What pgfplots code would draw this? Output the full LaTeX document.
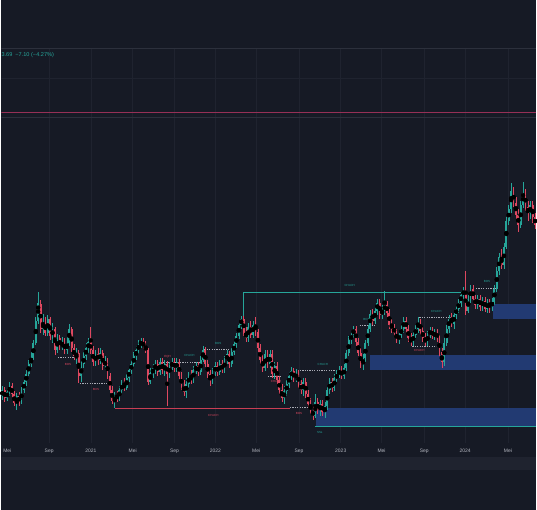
\documentclass[border=0pt]{standalone}
\usepackage{fontspec}
\setmainfont{Liberation Sans}
\usepackage{pgfplots}
\usepackage{pgfplotstable}
\pgfplotsset{compat=1.18}
\definecolor{bg}{RGB}{22,26,37}
\definecolor{strip}{RGB}{31,35,47}
\definecolor{gridc}{RGB}{31,35,47}
\definecolor{sepc}{RGB}{44,48,60}
\definecolor{upc}{RGB}{38,166,154}
\definecolor{dnc}{RGB}{222,72,96}
\definecolor{redline}{RGB}{200,62,84}
\definecolor{zone}{RGB}{34,58,114}
\definecolor{pinkl}{RGB}{150,48,86}
\definecolor{ticktext}{RGB}{178,181,190}
\definecolor{dashc}{RGB}{170,172,182}

\pgfplotstableread{
x o h l c
1.0 398 388 402 392
3.4 392 389 404 400
5.8 400 390 403 394
8.2 394 384 398 388
10.6 388 385 400 396
13.0 396 393 408 405
15.4 405 395 412 398
17.8 398 394 408 404
20.2 404 389 406 392
22.6 392 381 395 384
25.0 384 372 388 376
27.4 376 362 378 366
29.8 366 354 369 360
32.2 360 342 362 345
34.6 345 318 347 322
37.0 322 293 325 304
39.4 305 301 334 330
41.8 330 315 336 325
44.2 325 318 338 334
46.6 334 316 338 320
49.0 320 318 342 338
51.4 338 324 345 330
53.8 330 328 357 352
56.2 352 335 355 340
58.6 340 336 352 348
61.0 348 339 352 344
63.4 344 340 356 352
65.8 352 338 356 345
68.2 345 325 348 330
70.6 330 328 354 350
73.0 350 346 362 358
75.4 358 350 366 355
77.8 355 352 385 378
80.2 378 362 384 366
82.6 366 354 370 358
85.0 358 345 362 350
87.4 350 340 355 344
89.8 344 328 356 352
92.2 352 348 368 364
94.6 364 352 368 356
97.0 356 350 367 362
99.4 362 350 366 355
101.8 355 352 372 368
104.2 368 358 372 362
106.6 362 360 381 378
109.0 378 375 395 392
111.4 392 388 406 403
113.8 403 394 410 398
116.2 398 393 404 400
118.6 400 388 403 392
121.0 392 382 396 386
123.4 386 380 393 390
125.8 390 376 392 380
128.2 380 368 384 372
130.6 372 362 376 366
133.0 366 354 370 358
135.4 358 348 362 352
137.8 352 342 356 346
140.2 346 340 350 343
142.6 344 340 351 348
145.0 348 343 355 352
147.4 352 350 387 384
149.8 384 370 386 375
152.2 375 366 380 370
154.6 370 362 376 366
157.0 366 362 378 374
159.4 374 360 377 364
161.8 364 360 376 372
164.2 372 362 378 366
166.6 366 363 408 376
169.0 376 364 380 368
171.4 368 360 372 364
173.8 364 360 374 370
176.2 370 360 374 364
178.6 364 361 381 378
181.0 378 374 392 388
183.4 388 382 398 394
185.8 394 380 400 386
188.2 386 374 390 378
190.6 378 372 386 382
193.0 382 368 385 372
195.4 372 364 376 368
197.8 368 364 378 374
200.2 374 358 377 362
202.6 362 348 364 352
205.0 352 349 369 366
207.4 366 362 380 376
209.8 376 372 388 382
212.2 382 370 386 374
214.6 374 364 378 368
217.0 368 364 378 374
219.4 374 362 377 366
221.8 366 362 375 372
224.2 372 358 375 362
226.6 362 352 366 356
229.0 356 353 370 366
231.4 366 350 369 354
233.8 354 342 357 346
236.2 346 334 350 338
238.6 338 322 341 326
241.0 326 317 330 320
243.4 320 317 338 334
245.8 334 328 344 340
248.2 340 324 344 328
250.6 328 322 340 336
253.0 336 322 340 326
255.4 326 318 338 333
257.8 333 330 354 350
260.2 350 346 366 362
262.6 362 356 374 370
265.0 370 352 373 356
267.4 356 352 370 366
269.8 366 352 370 356
272.2 356 352 380 376
274.6 376 364 381 368
277.0 368 364 386 382
279.4 382 378 396 392
281.8 392 386 404 400
284.2 400 388 406 393
286.6 393 382 398 386
289.0 386 374 390 378
291.4 378 369 382 373
293.8 373 370 384 380
296.2 380 371 384 376
298.6 376 372 390 386
301.0 386 382 396 392
303.4 392 380 398 384
305.8 384 380 400 396
308.2 396 392 410 406
310.6 406 400 416 413
313.0 413 408 422 418
315.4 418 396 420 404
317.8 404 400 416 412
320.2 412 402 418 406
322.6 406 402 418 414
325.0 414 404 420 408
327.4 408 388 412 392
329.8 392 380 396 384
332.2 384 380 394 390
334.6 390 376 393 380
337.0 380 372 384 376
339.4 376 368 380 372
341.8 372 368 381 378
344.2 378 366 381 370
346.6 370 352 373 355
349.0 355 338 358 342
351.4 342 332 346 336
353.8 336 327 340 330
356.2 330 327 348 344
358.6 344 340 358 355
361.0 355 350 370 366
363.4 366 356 372 360
365.8 360 342 364 345
368.2 345 326 348 330
370.6 330 311 333 315
373.0 315 310 326 322
375.4 322 308 325 312
377.8 312 300 316 304
380.2 304 300 320 316
382.6 316 306 320 312
385.0 312 292 316 306
387.4 306 302 318 314
389.8 314 310 330 326
392.2 326 320 334 330
394.6 330 325 338 334
397.0 334 330 345 342
399.4 342 332 346 336
401.8 336 326 340 330
404.2 330 318 334 322
406.6 322 318 334 330
409.0 330 326 344 340
411.4 340 334 348 344
413.8 344 332 348 336
416.2 336 326 340 330
418.6 330 318 334 324
421.0 324 320 336 332
423.4 332 328 344 340
425.8 340 334 348 344
428.2 344 332 348 336
430.6 336 328 340 332
433.0 332 328 341 338
435.4 338 330 342 334
437.8 334 330 344 340
440.2 340 336 358 354
442.6 354 350 370 364
445.0 364 340 368 345
447.4 345 326 348 330
449.8 330 316 334 320
452.2 320 314 328 325
454.6 325 312 330 316
457.0 316 306 320 310
459.4 310 300 314 304
461.8 304 292 308 296
464.2 296 288 300 292
466.6 292 272 316 312
469.0 312 296 314 300
471.4 300 286 304 290
473.8 290 286 304 300
476.2 300 296 310 306
478.6 306 296 310 300
481.0 300 296 312 308
483.4 308 298 312 302
485.8 302 298 313 310
488.2 310 300 314 304
490.6 304 300 314 308
493.0 308 299 312 303
495.4 303 286 306 290
497.8 290 268 293 272
500.2 272 254 276 258
502.6 258 250 270 266
505.0 266 244 270 248
507.4 248 218 250 222
509.8 222 206 226 210
512.2 210 184 214 192
514.6 192 188 208 204
517.0 204 198 220 216
519.4 216 210 233 226
521.8 226 202 229 206
524.2 206 183 209 194
526.6 194 190 212 208
529.0 208 202 222 214
531.4 214 202 220 206
533.8 206 202 224 218
536.2 218 214 230 226
}\candles

\begin{document}
\begin{tikzpicture}
\begin{axis}[
  scale only axis, width=537pt, height=512pt,
  xmin=0, xmax=537, ymin=0, ymax=512,
  axis line style={draw=none},
  axis background/.style={fill=bg},
  ytick=\empty,
  xtick={6,48,90,132,174,215,256,299,341,382,425,466,509},
  xticklabels={Mei,Sep,2021,Mei,Sep,2022,Mei,Sep,2023,Mei,Sep,2024,Mei},
  major tick length=0pt,
  xticklabel style={anchor=center, yshift=59pt, font=\fontsize{5}{6}\selectfont, text=ticktext},
  clip=true,
  every axis plot/.append style={forget plot},
]
% bottom strip
\addplot[fill=strip, draw=none] coordinates {(0,40) (537,40) (537,53) (0,53)} -- cycle;
% vertical grid
\pgfplotsinvokeforeach{48,90,132,174,215,256,299,341,382,425,466,509}{
  \addplot[gridc, line width=0.5pt] coordinates {(#1,67) (#1,463)};
}
% horizontal lines
\addplot[sepc, line width=0.6pt] coordinates {(0,463.5) (537,463.5)};
\addplot[gridc, line width=0.5pt] coordinates {(0,433) (537,433)};
\addplot[sepc, line width=0.5pt] coordinates {(0,394) (537,394)};
\addplot[pinkl, line width=0.8pt] coordinates {(0,399) (537,399)};
% zones
\addplot[fill=zone, draw=none] coordinates {(494,192) (537,192) (537,207) (494,207)} -- cycle;
\addplot[fill=zone, draw=none] coordinates {(370,140) (537,140) (537,155) (370,155)} -- cycle;
\addplot[fill=zone, draw=none] coordinates {(316,84) (537,84) (537,102) (316,102)} -- cycle;
\addplot[upc, line width=0.8pt] coordinates {(315,84) (537,84)};
% structure lines
\addplot[redline, line width=0.8pt] coordinates {(114,102) (290,102)};
\addplot[upc, line width=0.8pt] coordinates {(243,193) (243,218) (467,218)};
% dashed levels
\addplot[dashc, line width=0.4pt, dash pattern=on 1.2pt off 1.2pt] coordinates {(57,153) (75,153)};
\addplot[dashc, line width=0.4pt, dash pattern=on 1.2pt off 1.2pt] coordinates {(79,127) (107,127)};
\addplot[dashc, line width=0.4pt, dash pattern=on 1.2pt off 1.2pt] coordinates {(158,148) (200,148)};
\addplot[dashc, line width=0.4pt, dash pattern=on 1.2pt off 1.2pt] coordinates {(204,161) (235,161)};
\addplot[dashc, line width=0.4pt, dash pattern=on 1.2pt off 1.2pt] coordinates {(268,134) (282,134)};
\addplot[dashc, line width=0.4pt, dash pattern=on 1.2pt off 1.2pt] coordinates {(290,103) (310,103)};
\addplot[dashc, line width=0.4pt, dash pattern=on 1.2pt off 1.2pt] coordinates {(300,140) (342,140)};
\addplot[dashc, line width=0.4pt, dash pattern=on 1.2pt off 1.2pt] coordinates {(360,185) (375,185)};
\addplot[dashc, line width=0.4pt, dash pattern=on 1.2pt off 1.2pt] coordinates {(420,193) (452,193)};
\addplot[dashc, line width=0.4pt, dash pattern=on 1.2pt off 1.2pt] coordinates {(413,164) (437,164)};
\addplot[dashc, line width=0.4pt, dash pattern=on 1.2pt off 1.2pt] coordinates {(477,223) (498,223)};
% candles: wicks
\addplot[only marks, mark=none, error bars/.cd, y dir=both, y explicit, error mark=none,
  error bar style={upc, line width=0.6pt}]
  table[x=x, y expr={512-(\thisrow{h}+\thisrow{l})/2}, y error expr={abs(\thisrow{l}-\thisrow{h})/2},
  restrict expr to domain={\thisrow{c}-\thisrow{o}}{-1000:-0.5}] {\candles};
\addplot[only marks, mark=none, error bars/.cd, y dir=both, y explicit, error mark=none,
  error bar style={dnc, line width=0.6pt}]
  table[x=x, y expr={512-(\thisrow{h}+\thisrow{l})/2}, y error expr={abs(\thisrow{l}-\thisrow{h})/2},
  restrict expr to domain={\thisrow{c}-\thisrow{o}}{0:1000}] {\candles};
% candles: bodies
\addplot[only marks, mark=none, error bars/.cd, y dir=both, y explicit, error mark=none,
  error bar style={upc, line width=1.9pt}]
  table[x=x, y expr={512-(\thisrow{o}+\thisrow{c})/2}, y error expr={abs(\thisrow{o}-\thisrow{c})/2},
  restrict expr to domain={\thisrow{c}-\thisrow{o}}{-1000:-0.5}] {\candles};
\addplot[only marks, mark=none, error bars/.cd, y dir=both, y explicit, error mark=none,
  error bar style={dnc, line width=1.9pt}]
  table[x=x, y expr={512-(\thisrow{o}+\thisrow{c})/2}, y error expr={abs(\thisrow{o}-\thisrow{c})/2},
  restrict expr to domain={\thisrow{c}-\thisrow{o}}{0:1000}] {\candles};
% labels
\tikzset{lbl/.style={font=\fontsize{3}{3.5}\selectfont, inner sep=0pt}}
\node[inner sep=0pt, text=upc, anchor=west, font=\fontsize{5.6}{6}\selectfont] at (axis cs:0,457) {3.69\ \ −7.10 (−4.27\%)};
\node[lbl, text=dnc] at (axis cs:213,95) {CHoCH};
\node[lbl, text=upc] at (axis cs:350,225) {CHoCH};
\node[lbl, text=dnc] at (axis cs:67,146) {BOS};
\node[lbl, text=dnc] at (axis cs:95,121) {BOS};
\node[lbl, text=dnc] at (axis cs:167,154) {EQH};
\node[lbl, text=upc] at (axis cs:189,155) {CHoCH};
\node[lbl, text=upc] at (axis cs:218,167) {BOS};
\node[lbl, text=dnc] at (axis cs:276,129) {CHoCH};
\node[lbl, text=dnc] at (axis cs:299,97) {BOS};
\node[lbl, text=upc] at (axis cs:323,146) {CHoCH};
\node[lbl, text=upc] at (axis cs:320,78) {SSL};
\node[lbl, text=upc] at (axis cs:367,191) {BOS};
\node[lbl, text=upc] at (axis cs:437,199) {CHoCH};
\node[lbl, text=dnc] at (axis cs:420,160) {CHoCH};
\node[lbl, text=upc] at (axis cs:488,229) {BOS};
\end{axis}
\end{tikzpicture}
\end{document}
